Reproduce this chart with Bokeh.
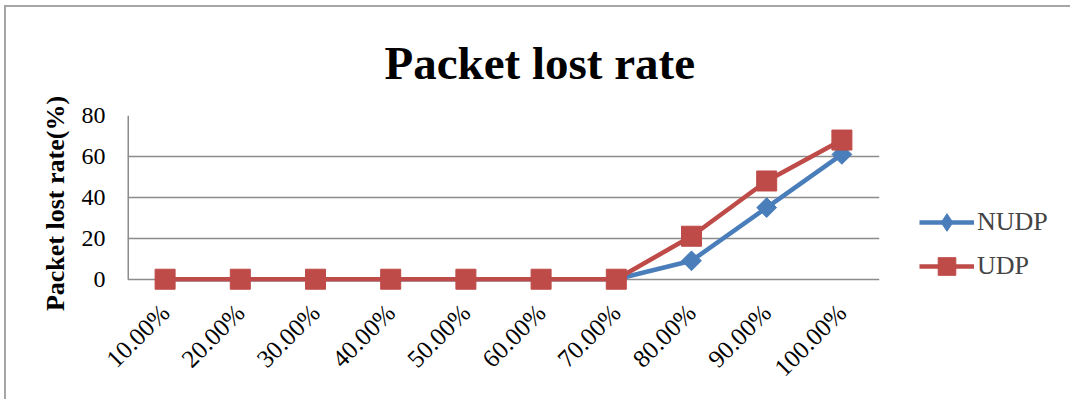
import math
from bokeh.plotting import figure
from bokeh.models import (FactorRange, Range1d, Legend, LegendItem, FixedTicker,
                          ColumnDataSource)
from bokeh.embed import file_html
from bokeh.resources import INLINE

title_text = "Packet lost rate"
categories = ["10.00%", "20.00%", "30.00%", "40.00%", "50.00%",
              "60.00%", "70.00%", "80.00%", "90.00%", "100.00%"]
nudp = [0, 0, 0, 0, 0, 0, 0, 9, 35, 61]
udp = [0, 0, 0, 0, 0, 0, 0, 21, 48, 68]
y_ticks = [0, 20, 40, 60, 80]
y_min, y_max = 0, 80

BLUE = "#4A7EBB"
RED = "#BE4B48"
GRID = "#8c8c8c"
FONT = "Liberation Serif"

DX, DY = 6, 7
PAD = 6  # room below zero so markers at 0 are not clipped
FRAME_H = 176
TOP = 108

src = ColumnDataSource(dict(cat=categories, nudp=nudp, udp=udp))
dummy = ColumnDataSource(dict(cat=[categories[0]], v=[float("nan")]))

p = figure(x_range=FactorRange(*categories), y_range=Range1d(y_min - PAD, y_max),
           frame_width=752, frame_height=FRAME_H,
           min_border_left=127 - DX, min_border_top=TOP,
           min_border_bottom=399 - DY - TOP - FRAME_H, min_border_right=1070 - 879,
           output_backend="svg", toolbar_location=None)

p.styles = {"border-top": "2px solid #a6a6a6", "border-left": "2px solid #a6a6a6"}
p.margin = (5, 0, 0, 4)

p.title.text = title_text
p.title.text_font = FONT
p.title.text_font_style = "bold"
p.title.text_font_size = "47px"
p.title.text_color = "black"
p.title.text_line_height = 0.8
p.title.align = "left"
p.title.offset = 257
p.title.standoff = 53

p.outline_line_color = None
p.xgrid.grid_line_color = None
p.ygrid.ticker = FixedTicker(ticks=y_ticks)
p.ygrid.grid_line_color = GRID
p.ygrid.grid_line_width = 1.5

# left axis line from 0 to 80 only
p.segment(x0=[(categories[0], -0.5)], y0=[y_min], x1=[(categories[0], -0.5)], y1=[y_max],
          line_color=GRID, line_width=3)

p.yaxis.ticker = FixedTicker(ticks=y_ticks)
p.yaxis.major_tick_out = 0
p.yaxis.major_tick_in = 0
p.yaxis.minor_tick_line_color = None
p.yaxis.axis_line_color = None
p.yaxis.major_label_text_font = FONT
p.yaxis.major_label_text_font_size = "24px"
p.yaxis.major_label_text_color = "black"
p.yaxis.major_label_standoff = 22
p.yaxis.axis_label = "Packet lost rate(%)"
p.yaxis.axis_label_text_font = FONT
p.yaxis.axis_label_text_font_style = "bold"
p.yaxis.axis_label_text_font_size = "26px"
p.yaxis.axis_label_text_color = "black"
p.yaxis.axis_label_standoff = 9

p.xaxis.major_tick_out = 0
p.xaxis.major_tick_in = 0
p.xaxis.axis_line_color = None
p.xaxis.major_label_orientation = math.pi / 4
p.xaxis.major_label_text_font = FONT
p.xaxis.major_label_text_font_size = "25px"
p.xaxis.major_label_text_color = "black"
p.xaxis.major_label_standoff = 17

ln = p.line(x="cat", y="nudp", source=src, line_color=BLUE, line_width=4.5)
mn = p.scatter(x="cat", y="nudp", source=src, marker="square", angle=math.pi / 4,
               size=14, fill_color=BLUE, line_color=BLUE)
lu = p.line(x="cat", y="udp", source=src, line_color=RED, line_width=4.5)
mu = p.scatter(x="cat", y="udp", source=src, marker="square", size=20,
               fill_color=RED, line_color=RED)

# legend-only marker for the narrow diamond shown in the legend
dn = p.scatter(x="cat", y="v", source=dummy, marker="diamond", size=18,
               fill_color=BLUE, line_color=BLUE)

legend = Legend(items=[LegendItem(label="NUDP", renderers=[ln, dn]),
                       LegendItem(label="UDP", renderers=[lu, mu])],
                location=(40, 3), padding=0, margin=0, border_line_color=None,
                background_fill_alpha=0, glyph_width=55, glyph_height=44, spacing=0,
                label_standoff=3, label_text_font=FONT, label_text_font_size="26px")
p.add_layout(legend, "right")

open("out.html", "w").write(file_html(p, INLINE))
